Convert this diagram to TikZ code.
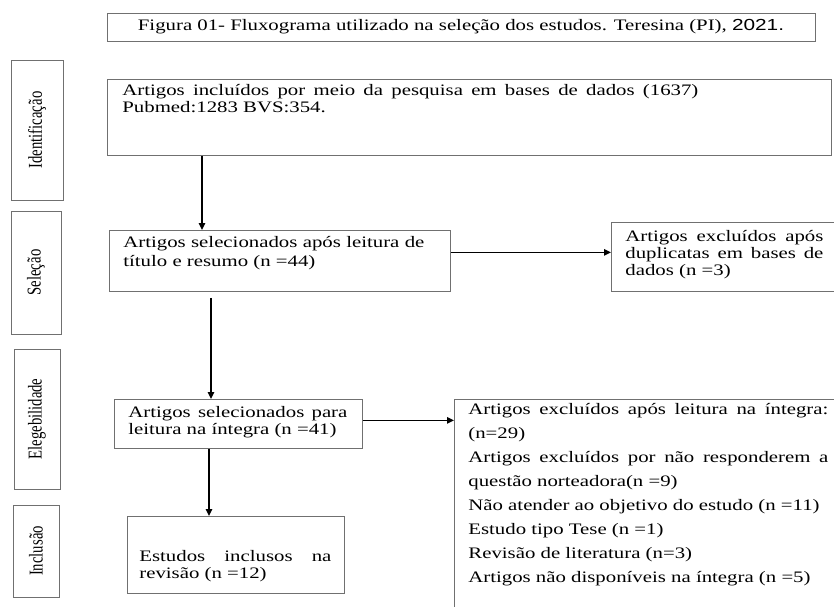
\documentclass[tikz,border=0pt]{standalone}
\usepackage{fontspec}
\usepackage{graphicx}
\setmainfont{Liberation Serif}[FakeStretch=1.3]
\newfontfamily\sidefont{Liberation Serif}[FakeStretch=0.75]
\newfontfamily\titlesans{Liberation Sans}[FakeStretch=1.3]
\usetikzlibrary{arrows.meta}
\definecolor{boxgray}{HTML}{707070}
% #1 width, #2 height, #3 left pad, #4 first baseline offset, #5 lines
\newcommand\bxtxt[5]{\parbox[c][#2][t]{#1}{\leftskip=#3\relax\vspace*{\dimexpr#4-\ht\strutbox\relax}\strut#5}}
\newcommand\sidetxt[1]{\rotatebox{90}{\sidefont\fontsize{19.6}{21}\selectfont #1}}
\tikzset{
  box/.style={draw=boxgray, line width=0.8pt, inner sep=0pt, anchor=north west, align=left,
              font=\fontsize{16}{17}\selectfont},
  side/.style={draw=boxgray, line width=0.8pt, inner sep=0pt},
  arr/.style={draw=black, line width=1.3pt, -{Triangle[length=7pt,width=6.5pt]}}
}
\begin{document}
\begin{tikzpicture}[x=1pt,y=-1pt]
\useasboundingbox (0,0) rectangle (834,606);
\clip (0,0) rectangle (834,606);
% title
\node[side, minimum width=708pt, minimum height=28pt, font=\fontsize{16}{17}\selectfont] (title) at (461,27)
  {Figura 01- Fluxograma utilizado na seleção dos estudos. Teresina (PI), {\titlesans 2021.}};
% side labels
\node[side, minimum width=52pt, minimum height=140pt] (sid) at (37,130) {\sidetxt{Identificação}};
\node[side, minimum width=50pt, minimum height=123pt] (ssel) at (36,272.5) {\sidetxt{Seleção}};
\node[side, minimum width=46pt, minimum height=140pt] (sele) at (37,419) {\sidetxt{Elegebilidade}};
\node[side, minimum width=46pt, minimum height=92pt] (sinc) at (36,551) {\sidetxt{Inclusão}};
% main boxes
\node[box] (id) at (107,79) {\bxtxt{724pt}{76pt}{15pt}{16.5pt}{\makebox[576pt][s]{Artigos incluídos por meio da pesquisa em bases de dados (1637)}\\\mbox{Pubmed:1283 BVS:354.}}};
\node[box] (sel) at (109,230) {\bxtxt{341pt}{61pt}{14pt}{17.5pt}{\makebox[301pt][s]{Artigos selecionados após leitura de}\\[2pt]\mbox{título e resumo (n =44)}}};
\node[box] (exc) at (611,222) {\bxtxt{229pt}{69pt}{14pt}{19.5pt}{\makebox[198pt][s]{Artigos excluídos após}\\\makebox[198pt][s]{duplicatas em bases de}\\\mbox{dados (n =3)}}};
\node[box] (ele) at (114,399) {\bxtxt{248pt}{49pt}{14pt}{18.5pt}{\makebox[219pt][s]{Artigos selecionados para}\\\mbox{leitura na íntegra (n =41)}}};
\node[box] (inc) at (127,516) {\bxtxt{217pt}{77pt}{12pt}{45.5pt}{\makebox[192pt][s]{Estudos inclusos na}\\\mbox{revisão (n =12)}}};
\node[box, font=\fontsize{16}{24}\selectfont] (big) at (454,399) {\bxtxt{386pt}{221pt}{14pt}{15.5pt}{%
  \makebox[360pt][s]{Artigos excluídos após leitura na íntegra:}\\%
  \mbox{(n=29)}\\%
  \makebox[360pt][s]{Artigos excluídos por não responderem a}\\%
  \mbox{questão norteadora(n =9)}\\%
  \mbox{Não atender ao objetivo do estudo (n =11)}\\%
  \mbox{Estudo tipo Tese (n =1)}\\%
  \mbox{Revisão de literatura (n=3)}\\%
  \mbox{Artigos não disponíveis na íntegra (n =5)}}};
% arrows
\draw[arr] ([xshift=95pt]id.south west) -- ([xshift=93pt]sel.north west);
\draw[arr] ([xshift=102pt,yshift=-6pt]sel.south west) -- ([xshift=97pt]ele.north west);
\draw[arr] ([xshift=95pt]ele.south west) -- ([xshift=82pt]inc.north west);
\draw[arr] ([yshift=8.5pt]sel.east) -- ([yshift=8.5pt]sel.east -| exc.west);
\draw[arr] ([yshift=3.5pt]ele.east) -- ([yshift=3.5pt]ele.east -| big.west);
\end{tikzpicture}
\end{document}
